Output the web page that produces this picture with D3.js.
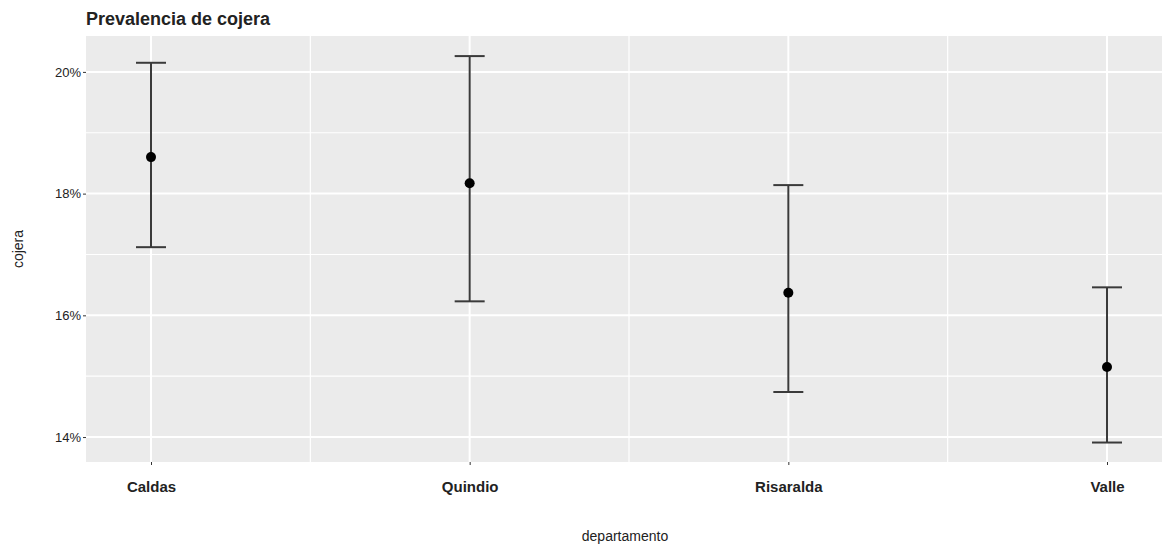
<!DOCTYPE html>
<html><head><meta charset="utf-8">
<script src="https://cdn.jsdelivr.net/npm/d3@7"></script>
<style>
body{margin:0;background:#fff;}
svg{display:block;font-family:"Liberation Sans",Arial,sans-serif;}
</style></head>
<body><svg id="c" width="1162" height="548"></svg>
<script>
const departamentos = ["Caldas","Quindio","Risaralda","Valle"];
const media = [18.60, 18.17, 16.37, 15.15];
const inferior = [17.12, 16.23, 14.74, 13.91];
const superior = [20.15, 20.26, 18.14, 16.46];
const yTicks = [14, 16, 18, 20];
const yMinor = [15, 17, 19];

const svg = d3.select("#c");
const W = 1162, H = 548;
const m = {left: 86, top: 36, right: 0, bottom: 86};
const pw = 1172 - m.left, ph = 462 - m.top;

const x = d3.scalePoint().domain(departamentos).range([151, 1107]);
const y = d3.scaleLinear().domain([13.59, 20.59]).range([462, 36]);

svg.append("rect").attr("x", m.left).attr("y", m.top).attr("width", pw).attr("height", ph).attr("fill", "#EBEBEB");

const step = x.step();
const grid = svg.append("g");
// minor vertical lines midway
departamentos.slice(0,-1).forEach((d)=>{
  grid.append("line").attr("x1", x(d)+step/2).attr("x2", x(d)+step/2).attr("y1", m.top).attr("y2", 462).attr("stroke","#fff").attr("stroke-width",1.2);
});
yMinor.forEach(v=>{
  grid.append("line").attr("x1", m.left).attr("x2", m.left+pw).attr("y1", y(v)).attr("y2", y(v)).attr("stroke","#fff").attr("stroke-width",1.2);
});
yTicks.forEach(v=>{
  grid.append("line").attr("x1", m.left).attr("x2", m.left+pw).attr("y1", y(v)).attr("y2", y(v)).attr("stroke","#fff").attr("stroke-width",2);
});
departamentos.forEach(d=>{
  grid.append("line").attr("x1", x(d)).attr("x2", x(d)).attr("y1", m.top).attr("y2", 462).attr("stroke","#fff").attr("stroke-width",2);
});

// axes
const yAxis = d3.axisLeft(y).tickValues(yTicks).tickFormat(d=>d+"%").tickSize(3).tickPadding(2);
const ga = svg.append("g").attr("transform",`translate(${m.left},0)`).call(yAxis);
ga.select(".domain").remove();
ga.selectAll("line").attr("stroke","#333");
ga.selectAll("text").attr("fill","#222").attr("font-size",13);

const xAxis = d3.axisBottom(x).tickSize(3).tickPadding(16);
const gx = svg.append("g").attr("transform",`translate(0,462)`).call(xAxis);
gx.select(".domain").remove();
gx.selectAll("line").attr("stroke","#333");
gx.selectAll("text").attr("fill","#222").attr("font-size",15).attr("font-weight","bold");

// error bars
const data = departamentos.map((d,i)=>({d, m: media[i], lo: inferior[i], hi: superior[i]}));
const cap = 15;
const eb = svg.append("g").attr("stroke","#3a3a3a").attr("stroke-width",2);
data.forEach(r=>{
  eb.append("line").attr("x1",x(r.d)).attr("x2",x(r.d)).attr("y1",y(r.lo)).attr("y2",y(r.hi));
  eb.append("line").attr("x1",x(r.d)-cap).attr("x2",x(r.d)+cap).attr("y1",y(r.hi)).attr("y2",y(r.hi));
  eb.append("line").attr("x1",x(r.d)-cap).attr("x2",x(r.d)+cap).attr("y1",y(r.lo)).attr("y2",y(r.lo));
});
svg.append("g").selectAll("circle").data(data).join("circle")
  .attr("cx",r=>x(r.d)).attr("cy",r=>y(r.m)).attr("r",5).attr("fill","#000");

// titles
svg.append("text").attr("x",86).attr("y",25).attr("font-size",18).attr("font-weight","bold").attr("fill","#222").text("Prevalencia de cojera");
svg.append("text").attr("x",625).attr("y",541).attr("text-anchor","middle").attr("font-size",14).attr("fill","#222").text("departamento");
svg.append("text").attr("transform","translate(23,249) rotate(-90)").attr("text-anchor","middle").attr("font-size",14).attr("fill","#222").text("cojera");
</script></body></html>
